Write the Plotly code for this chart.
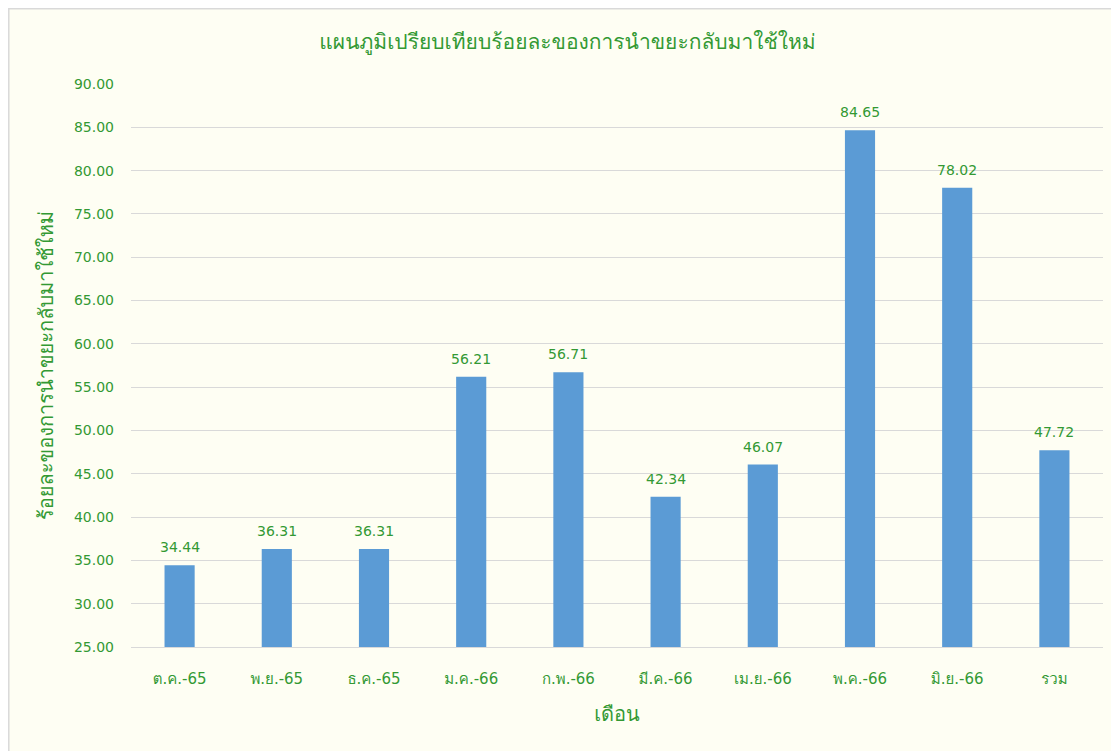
import plotly.graph_objects as go

months = ["ต.ค.-65", "พ.ย.-65", "ธ.ค.-65", "ม.ค.-66", "ก.พ.-66", "มี.ค.-66", "เม.ย.-66", "พ.ค.-66", "มิ.ย.-66", "รวม"]
values = [34.44, 36.31, 36.31, 56.21, 56.71, 42.34, 46.07, 84.65, 78.02, 47.72]
y_ticks = [25, 30, 35, 40, 45, 50, 55, 60, 65, 70, 75, 80, 85, 90]

title_text = "แผนภูมิเปรียบเทียบร้อยละของการนำขยะกลับมาใช้ใหม่"
y_title = "ร้อยละของการนำขยะกลับมาใช้ใหม่"
x_title = "เดือน"

GREEN = "#339933"
FONT = "'DejaVu Sans', Tahoma, Loma, Garuda, 'Noto Sans Thai Looped', 'Noto Sans Thai', sans-serif"

fig = go.Figure()
fig.add_trace(go.Bar(x=months, y=values, marker=dict(color="#5b9bd5", line=dict(width=0)),
                     hoverinfo="x+y"))

for m, v in zip(months, values):
    fig.add_annotation(x=m, y=v, text=f"{v:.2f}", showarrow=False, yanchor="bottom",
                       yshift=8, font=dict(size=14, color=GREEN, family=FONT))

# page body adds an 8px offset; compensate so plot lands where reference has it
L, R, T, B = 123, 24, 76, 112
W = 1119 - L - R
H = 751 - T - B
fig.add_shape(type="rect", xref="paper", yref="paper",
              x0=(0.8 - L) / W, x1=(1140 - L) / W,
              y0=-(B + 20) / H, y1=1 + (T - 0.8) / H,
              fillcolor="#fefef3", line=dict(color="#d9d9d9", width=1.5), layer="below")

fig.update_layout(
    width=1119, height=751,
    margin=dict(l=L, r=R, t=T, b=B),
    paper_bgcolor="white",
    plot_bgcolor="rgba(0,0,0,0)",
    bargap=0.69,
    showlegend=False,
    font=dict(family=FONT, color=GREEN),
    title=dict(text=title_text, x=0.5, xref="container", xanchor="center",
               y=1 - 34 / 751, yanchor="middle",
               font=dict(size=21, color=GREEN, family=FONT)),
    xaxis=dict(
        type="category", tickfont=dict(size=15, color=GREEN), showgrid=False,
        showline=True, linecolor="#d9d9d9", linewidth=1, ticks="", ticklabelstandoff=18,
        title=dict(text=x_title, font=dict(size=20, color=GREEN), standoff=19),
    ),
    yaxis=dict(
        range=[25, 90], tickvals=y_ticks, ticktext=[f"{t:.2f}" for t in y_ticks],
        tickfont=dict(size=14, color=GREEN), showgrid=True, gridcolor="#d9d9d9", gridwidth=1,
        zeroline=False, showline=False, ticks="", ticklabelstandoff=16,
        title=dict(text=y_title, font=dict(size=20, color=GREEN), standoff=14),
    ),
)

fig.write_html("out.html")
